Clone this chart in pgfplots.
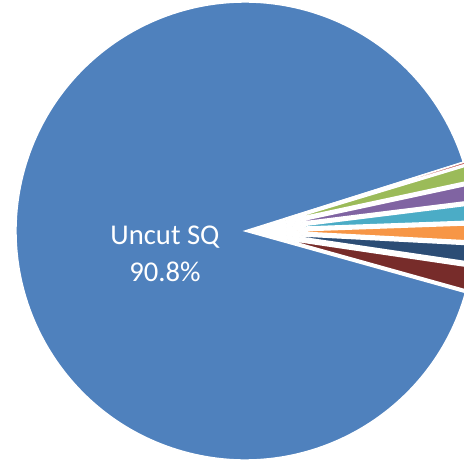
\documentclass[border=0pt]{standalone}
\usepackage{pgfplots}
\pgfplotsset{compat=1.18}
\usepackage{pgfplotstable}
\usepackage{fontspec}
\setmainfont{Carlito}

% Excel 2010 palette, in series order
\definecolor{c0}{HTML}{4F81BD}
\definecolor{c1}{HTML}{C0504D}
\definecolor{c2}{HTML}{9BBB59}
\definecolor{c3}{HTML}{8064A2}
\definecolor{c4}{HTML}{4BACC6}
\definecolor{c5}{HTML}{F79646}
\definecolor{c6}{HTML}{2C4D75}
\definecolor{c7}{HTML}{772C2A}

% share in %, explode offset in px
\pgfplotstableread{
share explode
90.8  0
0.2   42
1.3   42
1.4   42
1.4   42
1.4   42
1.5   42
2.0   42
}\piedata

\begin{document}
\begin{tikzpicture}
% slice angles, clockwise from the lower edge of the big slice
\def\acc{0}%
\pgfplotsforeachungrouped \i in {0,...,7}{%
  \pgfplotstablegetelem{\i}{share}\of\piedata \let\sval\pgfplotsretval
  \pgfplotstablegetelem{\i}{explode}\of\piedata \let\sexp\pgfplotsretval
  \pgfmathsetmacro\sa{-15.6-3.6*\acc}%
  \pgfmathsetmacro\sb{\sa-3.6*\sval}%
  \pgfmathsetmacro\smid{(\sa+\sb)/2}%
  \pgfmathsetmacro\sdx{\sexp*cos(\smid)}%
  \pgfmathsetmacro\sdy{\sexp*sin(\smid)}%
  \expandafter\xdef\csname pa\i\endcsname{\sa}%
  \expandafter\xdef\csname pb\i\endcsname{\sb}%
  \expandafter\xdef\csname px\i\endcsname{\sdx}%
  \expandafter\xdef\csname py\i\endcsname{\sdy}%
  \pgfmathsetmacro\acc{\acc+\sval}%
}%
\begin{axis}[
    x=0.02cm, y=0.02cm,
    xmin=-245, xmax=219,
    ymin=-230, ymax=231,
    hide axis,
    clip=true,
]
\pgfplotsinvokeforeach{0,...,7}{
  \fill[c#1, draw=white, line width=0.8pt, line join=miter]
    (axis cs:\csname px#1\endcsname,\csname py#1\endcsname)
    -- ++(\csname pa#1\endcsname:4.58cm)
    arc[start angle=\csname pa#1\endcsname, end angle=\csname pb#1\endcsname, radius=4.58cm]
    -- cycle;
}
\node[text=white, align=center, font=\fontsize{16.3}{21.3}\selectfont]
  at (axis cs:-80,-23) {Uncut SQ\\90.8\%};
\end{axis}
\pgfresetboundingbox
\path[use as bounding box] (current axis.south west) rectangle (current axis.north east);
\end{tikzpicture}
\end{document}
